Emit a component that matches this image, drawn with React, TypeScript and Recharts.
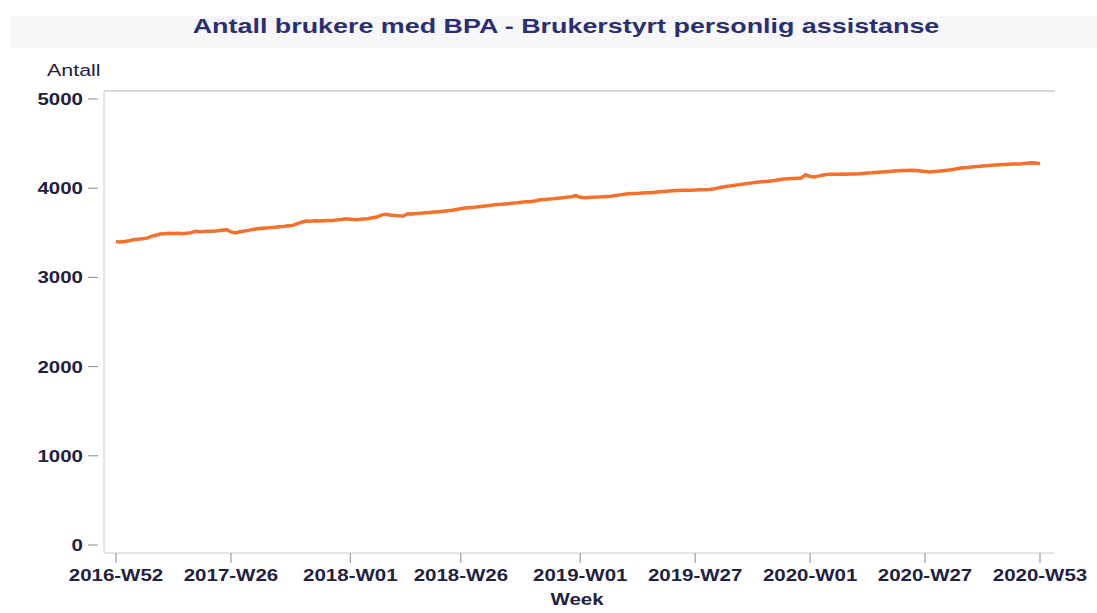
import React from "react";
import { LineChart, Line, XAxis, YAxis } from "recharts";

const weekCategories: string[] = (() => {
  const out: string[] = ["2016-W52"];
  const years: [number, number][] = [[2017, 52], [2018, 52], [2019, 52], [2020, 53]];
  for (const [yr, n] of years) {
    for (let w = 1; w <= n; w++) out.push(`${yr}-W${w < 10 ? "0" + w : w}`);
  }
  return out;
})();

const userCounts: number[] = [
  3400, 3398, 3402, 3410, 3425, 3428, 3432, 3440, 3460, 3472,
  3486, 3490, 3494, 3492, 3495, 3490, 3496, 3502, 3516, 3512,
  3514, 3516, 3518, 3522, 3528, 3535, 3510, 3498, 3512, 3520,
  3527, 3538, 3546, 3550, 3555, 3558, 3562, 3568, 3572, 3578,
  3583, 3602, 3618, 3632, 3630, 3634, 3632, 3636, 3638, 3639,
  3645, 3650, 3658, 3652, 3647, 3650, 3654, 3658, 3668, 3677,
  3698, 3707, 3700, 3695, 3690, 3688, 3714, 3712, 3716, 3720,
  3724, 3728, 3733, 3735, 3742, 3748, 3754, 3762, 3770, 3778,
  3782, 3786, 3792, 3798, 3804, 3810, 3818, 3820, 3824, 3828,
  3834, 3838, 3844, 3848, 3852, 3860, 3871, 3874, 3878, 3882,
  3888, 3893, 3900, 3905, 3916, 3898, 3893, 3896, 3898, 3900,
  3904, 3908, 3911, 3918, 3925, 3932, 3938, 3940, 3942, 3945,
  3948, 3950, 3954, 3960, 3964, 3968, 3972, 3975, 3976, 3978,
  3978, 3980, 3982, 3983, 3986, 3992, 4001, 4010, 4018, 4026,
  4034, 4040, 4048, 4054, 4060, 4066, 4072, 4076, 4080, 4086,
  4095, 4102, 4106, 4110, 4112, 4115, 4150, 4132, 4125, 4138,
  4148, 4155, 4156, 4156, 4158, 4157, 4160, 4160, 4162, 4166,
  4170, 4172, 4176, 4181, 4184, 4188, 4192, 4195, 4199, 4198,
  4200, 4199, 4194, 4188, 4181, 4186, 4190, 4196, 4202, 4207,
  4216, 4226, 4230, 4234, 4240, 4244, 4248, 4252, 4256, 4260,
  4264, 4267, 4268, 4270, 4272, 4274, 4280, 4285, 4282, 4274,
];

const xTickLabels: string[] = [
  "2016-W52", "2017-W26", "2018-W01", "2018-W26", "2019-W01",
  "2019-W27", "2020-W01", "2020-W27", "2020-W53",
];
const yTickValues: number[] = [0, 1000, 2000, 3000, 4000, 5000];

const chartTitle = "Antall brukere med BPA - Brukerstyrt personlig assistanse";
const yAxisTitle = "Antall";
const xAxisTitle = "Week";

const data = weekCategories.map((week, i) => ({ week, count: userCounts[i] }));

const FONT = "'Liberation Sans', Arial, sans-serif";
const LABEL_COLOR = "#1e2140";
const TICK_COLOR = "#8a8a8a";
const FRAME_COLOR = "#cccccc";
const SX = 1.28;
const FS = 16;

const YTick = (props: any) => {
  const { x, y, payload } = props;
  return (
    <g>
      <line x1={x - 16} y1={y} x2={x - 6} y2={y} stroke={TICK_COLOR} strokeWidth={1} />
      <text
        transform={`translate(${x - 21},${y + 6}) scale(${SX},1)`}
        textAnchor="end"
        fontFamily={FONT}
        fontSize={FS}
        fontWeight="bold"
        fill={LABEL_COLOR}
      >
        {payload.value}
      </text>
    </g>
  );
};

const XTick = (props: any) => {
  const { x, y, payload } = props;
  return (
    <g>
      <line x1={x} y1={y} x2={x} y2={y + 10} stroke={TICK_COLOR} strokeWidth={1} />
      <text
        transform={`translate(${x},${y + 28}) scale(${SX},1)`}
        textAnchor="middle"
        fontFamily={FONT}
        fontSize={FS}
        fontWeight="bold"
        fill={LABEL_COLOR}
      >
        {payload.value}
      </text>
    </g>
  );
};

export default function App() {
  return (
    <div style={{ position: "absolute", left: 0, top: 0, width: 1097, height: 613, background: "#ffffff" }}>
      <svg width={1097} height={613} style={{ position: "absolute", left: 0, top: 0 }}>
        <rect x={10} y={16} width={1087} height={32} fill="#f7f7fa" />
        <text
          transform={`translate(566,33) scale(1.28,1)`}
          textAnchor="middle"
          fontFamily={FONT}
          fontSize={21}
          fontWeight="bold"
          fill="#2a2f72"
        >
          {chartTitle}
        </text>
        <text
          transform={`translate(47,76) scale(1.3,1)`}
          textAnchor="start"
          fontFamily={FONT}
          fontSize={16.5}
          fill={LABEL_COLOR}
        >
          {yAxisTitle}
        </text>
        <text
          transform={`translate(577,605) scale(${SX},1)`}
          textAnchor="middle"
          fontFamily={FONT}
          fontSize={FS}
          fontWeight="bold"
          fill={LABEL_COLOR}
        >
          {xAxisTitle}
        </text>
      </svg>
      <div style={{ position: "absolute", left: 0, top: 0 }}>
        <LineChart
          width={1097}
          height={613}
          data={data}
          margin={{ top: 90, right: 42, bottom: 20, left: 44 }}
        >
          <XAxis
            dataKey="week"
            ticks={xTickLabels}
            interval={0}
            tick={<XTick />}
            tickLine={false}
            tickSize={0}
            tickMargin={0}
            height={40}
            padding={{ left: 12, right: 15 }}
            axisLine={{ stroke: FRAME_COLOR }}
          />
          <XAxis
            xAxisId="top"
            dataKey="week"
            orientation="top"
            tick={false}
            tickLine={false}
            height={1}
            axisLine={{ stroke: FRAME_COLOR, strokeWidth: 1.5 }}
          />
          <YAxis
            domain={[0, 5000]}
            ticks={yTickValues}
            interval={0}
            tick={<YTick />}
            tickLine={false}
            tickSize={0}
            tickMargin={0}
            width={60}
            padding={{ top: 8, bottom: 8 }}
            axisLine={{ stroke: FRAME_COLOR }}
          />
          <YAxis
            yAxisId="right"
            orientation="right"
            domain={[0, 5000]}
            tick={false}
            tickLine={false}
            width={0}
            axisLine={{ stroke: FRAME_COLOR, strokeWidth: 1.5 }}
          />
          <Line
            type="linear"
            dataKey="count"
            stroke="#f5702a"
            strokeWidth={3.5}
            dot={false}
            isAnimationActive={false}
          />
        </LineChart>
      </div>
    </div>
  );
}
